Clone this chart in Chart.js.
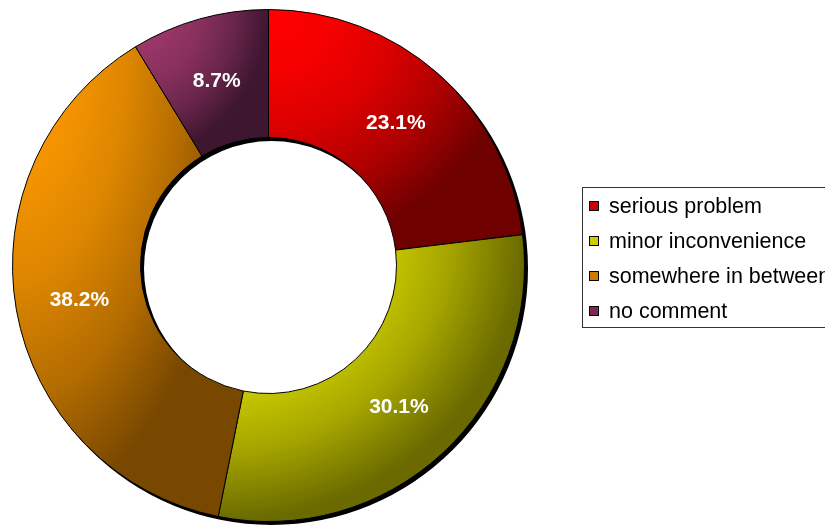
<!DOCTYPE html>
<html>
<head>
<meta charset="utf-8">
<script src="https://cdn.jsdelivr.net/npm/chart.js@4/dist/chart.umd.min.js"></script>
<style>
  body { margin: 0; background: #fff; }
  canvas { display: block; }
</style>
</head>
<body>
<canvas id="ringChart" width="825" height="525"></canvas>
<script>
const categories = ["serious problem", "minor inconvenience", "somewhere in between", "no comment"]
const shares = [23.1, 30.1, 38.2, 8.7]

// each slice is shaded from a light corner to a dark corner
const lightColors = ["#ff0000", "#f2f200", "#ff9a00", "#a0386c"]
const darkColors = ["#6e0000", "#6a6a00", "#784800", "#3e1630"]
const legendColors = ["#c80000", "#cccc00", "#d07c00", "#7c2852"]

const ctx = document.getElementById("ringChart")

function hexRgb(h) {
    return [1, 3, 5].map(i => parseInt(h.substr(i, 2), 16))
}

function mix(a, b, t) {
    const ca = hexRgb(a), cb = hexRgb(b)
    const c = ca.map((v, i) => Math.round(v + (cb[i] - v) * t))
    return "rgb(" + c.join(",") + ")"
}

// builds a pattern the size of the canvas, with an elliptical gradient
// anchored at the top-left of the slice's bounding box
function sliceShade(chart, arc, i) {
    let x0 = Infinity, y0 = Infinity, x1 = -Infinity, y1 = -Infinity
    for (let k = 0; k <= 80; k++) {
        const a = arc.startAngle + (arc.endAngle - arc.startAngle) * k / 80
        for (const r of [arc.innerRadius, arc.outerRadius]) {
            const px = arc.x + r * Math.cos(a)
            const py = arc.y + r * Math.sin(a)
            x0 = Math.min(x0, px); y0 = Math.min(y0, py)
            x1 = Math.max(x1, px); y1 = Math.max(y1, py)
        }
    }
    const off = document.createElement("canvas")
    off.width = chart.width
    off.height = chart.height
    const c = off.getContext("2d")
    c.translate(x0, y0)
    c.scale(x1 - x0, y1 - y0)
    const g = c.createRadialGradient(0, 0, 0, 0, 0, 1)
    const lo = lightColors[i], hi = darkColors[i]
    g.addColorStop(0, mix(lo, hi, 0))
    g.addColorStop(0.25, mix(lo, hi, 0.06))
    g.addColorStop(0.5, mix(lo, hi, 0.25))
    g.addColorStop(0.75, mix(lo, hi, 0.56))
    g.addColorStop(1, mix(lo, hi, 1))
    c.fillStyle = g
    c.fillRect(-0.1, -0.1, 1.3, 1.3)
    return chart.ctx.createPattern(off, "no-repeat")
}

const shading = {
    id: "shading",
    beforeDatasetsDraw(chart) {
        const arcs = chart.getDatasetMeta(0).data
        arcs.forEach((arc, i) => {
            arc.options = Object.assign({}, arc.options, { backgroundColor: sliceShade(chart, arc, i) })
        })
        // drop shadow of the whole ring
        const first = arcs[0]
        const c = chart.ctx
        c.save()
        c.fillStyle = "#000"
        c.beginPath()
        c.arc(first.x + 3, first.y + 3, first.outerRadius + 0.5, 0, Math.PI * 2)
        c.arc(first.x + 3, first.y + 3, first.innerRadius - 0.5, 0, Math.PI * 2, true)
        c.fill("evenodd")
        c.restore()
    }
}

const sliceLabels = {
    id: "sliceLabels",
    afterDatasetsDraw(chart) {
        const c = chart.ctx
        c.save()
        c.font = "bold 21px 'Liberation Sans', Arial, sans-serif"
        c.fillStyle = "#fff"
        c.textAlign = "center"
        c.textBaseline = "middle"
        chart.getDatasetMeta(0).data.forEach((arc, i) => {
            const p = arc.tooltipPosition()
            c.fillText(shares[i].toFixed(1) + "%", p.x, p.y + 1)
        })
        c.restore()
    }
}

const boxLegend = {
    id: "boxLegend",
    afterDraw(chart) {
        const c = chart.ctx
        c.save()
        c.strokeStyle = "#333"
        c.lineWidth = 1
        c.strokeRect(582.5, 187.5, 260, 140)
        c.font = "21.5px 'Liberation Sans', Arial, sans-serif"
        c.textBaseline = "alphabetic"
        categories.forEach((name, i) => {
            const top = 201 + i * 35
            c.fillStyle = legendColors[i]
            c.fillRect(589, top, 10, 10)
            c.strokeStyle = "#000"
            c.strokeRect(589.5, top + 0.5, 9, 9)
            c.fillStyle = "#000"
            c.fillText(name, 609, top + 11.5)
        })
        c.restore()
    }
}

const ringChart = new Chart(ctx, {
    type: "doughnut",
    data: {
        labels: categories,
        datasets: [{
            data: shares,
            backgroundColor: lightColors,
            borderColor: "#000",
            borderWidth: 1
        }]
    },
    options: {
        responsive: false,
        animation: false,
        events: [],
        cutout: "50%",
        layout: { padding: { left: 12, top: 9, right: 300, bottom: 3 } },
        plugins: {
            legend: { display: false },
            tooltip: { enabled: false }
        }
    },
    plugins: [shading, sliceLabels, boxLegend]
})
</script>
</body>
</html>
